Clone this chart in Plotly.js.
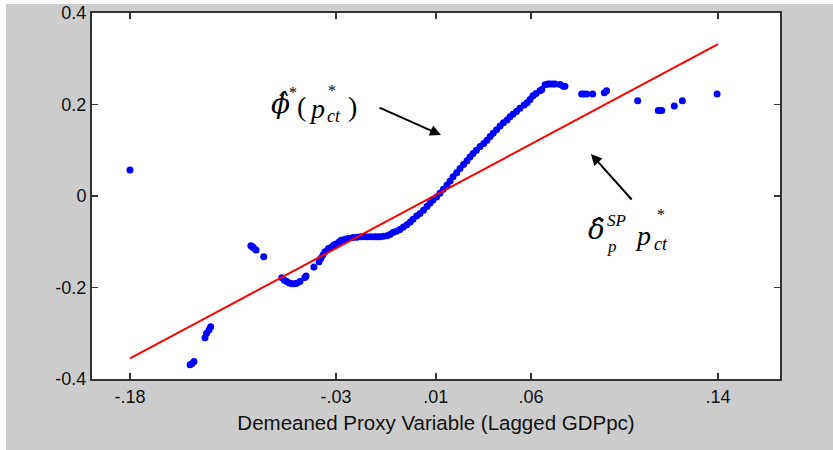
<!DOCTYPE html>
<html>
<head>
<meta charset="utf-8">
<script src="https://cdn.plot.ly/plotly-3.0.1.min.js"></script>
<style>
html,body{margin:0;padding:0;background:#ffffff;}
#chart{position:absolute;left:6px;top:4px;width:827px;height:446px;}
</style>
</head>
<body>
<div id="chart"></div>
<script>
// ---- data ----
const dotsX = [
-0.1800,-0.1473,-0.1462,-0.1452,-0.1392,-0.1383,-0.1370,-0.1361,
-0.1142,-0.1135,-0.1129,-0.1114,-0.1072,
-0.0974,-0.0960,-0.0947,-0.0933,-0.0920,-0.0906,-0.0893,-0.0875,-0.0848,-0.0842,
-0.0799,-0.0771,-0.0761,-0.0750,-0.0739,-0.0720,-0.0702,-0.0690,-0.0679,-0.0661,
-0.0650,-0.0641,-0.0625,-0.0610,-0.0586,-0.0565,-0.0545,-0.0525,-0.0510,-0.0490,
-0.0470,-0.0455,-0.0439,-0.0420,-0.0401,-0.0385,-0.0369,-0.0350,-0.0331,-0.0312,
-0.0293,-0.0275,-0.0260,-0.0240,-0.0222,-0.0203,-0.0184,-0.0168,-0.0151,-0.0132,
-0.0113,-0.0095,-0.0075,-0.0058,-0.0042,-0.0022,-0.0004,0.0015,0.0034,0.0050,
0.0067,0.0085,0.0105,0.0125,0.0143,0.0160,0.0176,0.0195,0.0214,0.0232,
0.0252,0.0268,0.0284,0.0303,0.0322,0.0345,0.0361,0.0377,0.0393,0.0410,
0.0431,0.0441,0.0459,0.0475,0.0486,0.0502,0.0513,0.0540,0.0558,0.0567,
0.0658,0.0670,0.0685,0.0718,0.0781,0.0794,0.0963,0.1075,0.1085,0.1094,
0.1162,0.1206,0.1395
];
const dotsY = [
0.057,-0.369,-0.366,-0.362,-0.310,-0.300,-0.293,-0.286,
-0.109,-0.111,-0.113,-0.118,-0.133,
-0.179,-0.184,-0.187,-0.190,-0.192,-0.192,-0.191,-0.187,-0.178,-0.175,
-0.155,-0.144,-0.136,-0.129,-0.122,-0.115,-0.111,-0.107,-0.105,-0.100,
-0.097,-0.096,-0.094,-0.093,-0.091,-0.090,-0.089,-0.089,-0.089,-0.089,
-0.089,-0.089,-0.089,-0.088,-0.087,-0.084,-0.080,-0.077,-0.073,-0.068,
-0.063,-0.057,-0.051,-0.044,-0.038,-0.031,-0.023,-0.016,-0.009,-0.002,
0.006,0.015,0.024,0.033,0.042,0.051,0.060,0.069,0.077,0.085,
0.093,0.100,0.108,0.115,0.122,0.130,0.137,0.145,0.153,0.160,
0.166,0.173,0.179,0.185,0.192,0.199,0.204,0.211,0.219,0.224,
0.230,0.233,0.243,0.245,0.245,0.245,0.245,0.244,0.240,0.240,
0.223,0.223,0.223,0.223,0.226,0.230,0.208,0.187,0.187,0.187,
0.197,0.208,0.223
];
const fitX = [-0.18, 0.14];
const fitY = [-0.355, 0.332];
const xTickPos = [-0.18, -0.0679, -0.0136, 0.0382, 0.14];
const xTickText = ['-.18', '-.03', '.01', '.06', '.14'];
const yTickVals = [-0.4, -0.2, 0, 0.2, 0.4];
const yTickText = ['-0.4', '-0.2', '0', '0.2', '0.4'];
const xTitle = 'Demeaned Proxy Variable (Lagged GDPpc)';

// pixel helpers for annotation placement (plot-area mapping)
const X = px => -0.18 + (px - 130) / 1837.5;
const Y = py => (196 - py) / 457.5;

const serif = 'Liberation Serif, Times New Roman, serif';
function txt(s, px, py, size, fam) {
  return {text: s, x: X(px), y: Y(py), xref: 'x', yref: 'y', showarrow: false,
          xanchor: 'center', yanchor: 'middle',
          font: {family: fam || serif, size: size, color: '#000'}};
}

const traces = [
  {x: dotsX, y: dotsY, type: 'scatter', mode: 'markers',
   marker: {color: '#0000ff', size: 7, line: {width: 0}}, hoverinfo: 'none'},
  {x: fitX, y: fitY, type: 'scatter', mode: 'lines',
   line: {color: '#ff0000', width: 2}, hoverinfo: 'none'}
];

const annotations = [
  txt('<i>\u03D5\u0302</i>', 280, 103, 28, 'DejaVu Serif'),
  txt('*', 293, 92, 16),
  txt('(', 301, 106, 28),
  txt('<i>p</i>', 317, 108, 28),
  txt('*', 332, 90, 16),
  txt('<i>ct</i>', 334, 116, 18),
  txt(')', 352, 106, 28),
  txt('<i>\u03B4\u0302</i>', 596, 230, 28, 'DejaVu Serif'),
  txt('<i>SP</i>', 616, 221, 17),
  txt('<i>p</i>', 612, 247, 17),
  txt('<i>p</i>', 643, 236, 28),
  txt('*', 661, 214, 16),
  txt('<i>ct</i>', 661, 244, 18),
  {x: X(441), y: Y(135), xref: 'x', yref: 'y', ax: -63, ay: -28, text: '',
   showarrow: true, arrowhead: 2, arrowsize: 1.1, arrowwidth: 2, arrowcolor: '#000'},
  {x: X(591), y: Y(154), xref: 'x', yref: 'y', ax: 42, ay: 47, text: '',
   showarrow: true, arrowhead: 2, arrowsize: 1.1, arrowwidth: 2, arrowcolor: '#000'}
];

const axisFont = {family: 'Liberation Sans, Arial, sans-serif', size: 18, color: '#111'};

const layout = {
  width: 827, height: 446,
  margin: {l: 86, r: 53, t: 9, b: 71, pad: 0},
  paper_bgcolor: '#cccccc',
  plot_bgcolor: '#ffffff',
  showlegend: false,
  xaxis: {
    range: [-0.20068, 0.17374],
    tickmode: 'array', tickvals: xTickPos, ticktext: xTickText,
    ticks: 'inside', ticklen: 6, tickwidth: 1.5, tickcolor: '#333',
    showline: true, linecolor: '#333', linewidth: 2, mirror: 'ticks',
    showgrid: false, zeroline: false, ticklabeloverflow: 'allow',
    tickfont: axisFont,
    title: {text: xTitle, font: {family: 'Liberation Sans, Arial, sans-serif', size: 20.5, color: '#111'}, standoff: 10}
  },
  yaxis: {
    range: [-0.4001, 0.4001],
    tickmode: 'array', tickvals: yTickVals, ticktext: yTickText,
    ticks: 'inside', ticklen: 6, tickwidth: 1.5, tickcolor: '#333',
    showline: true, linecolor: '#333', linewidth: 2, mirror: 'ticks',
    showgrid: false, zeroline: false, ticklabeloverflow: 'allow',
    tickfont: axisFont
  },
  annotations: annotations
};

Plotly.newPlot('chart', traces, layout, {displayModeBar: false, staticPlot: true});
</script>
</body>
</html>
